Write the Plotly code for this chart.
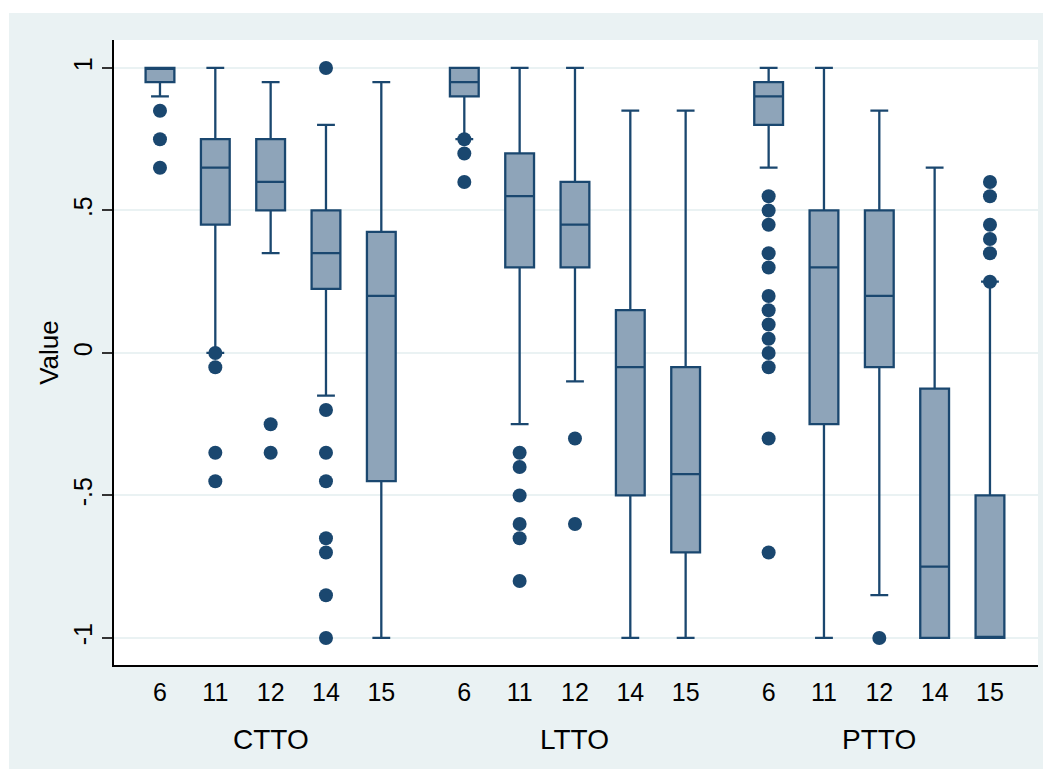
import plotly.graph_objects as go

# ---- data ----
groups = ["CTTO", "LTTO", "PTTO"]
categories = ["6", "11", "12", "14", "15"]

# per group, per category (order of categories)
q1_vals = [
    [0.95, 0.45, 0.50, 0.225, -0.45],
    [0.90, 0.30, 0.30, -0.50, -0.70],
    [0.80, -0.25, -0.05, -1.00, -1.00],
]
median_vals = [
    [1.00, 0.65, 0.60, 0.35, 0.20],
    [0.95, 0.55, 0.45, -0.05, -0.425],
    [0.90, 0.30, 0.20, -0.75, -1.00],
]
q3_vals = [
    [1.00, 0.75, 0.75, 0.50, 0.425],
    [1.00, 0.70, 0.60, 0.15, -0.05],
    [0.95, 0.50, 0.50, -0.125, -0.50],
]
lower_vals = [
    [0.90, 0.00, 0.35, -0.15, -1.00],
    [0.75, -0.25, -0.10, -1.00, -1.00],
    [0.65, -1.00, -0.85, -1.00, -1.00],
]
upper_vals = [
    [1.00, 1.00, 0.95, 0.80, 0.95],
    [1.00, 1.00, 1.00, 0.85, 0.85],
    [1.00, 1.00, 0.85, 0.65, 0.25],
]
outlier_vals = [
    [[0.85, 0.75, 0.65],
     [0.0, -0.05, -0.35, -0.45],
     [-0.25, -0.35],
     [1.0, -0.2, -0.35, -0.45, -0.65, -0.7, -0.85, -1.0],
     []],
    [[0.75, 0.70, 0.60],
     [-0.35, -0.40, -0.50, -0.60, -0.65, -0.80],
     [-0.30, -0.60],
     [],
     []],
    [[0.55, 0.50, 0.45, 0.35, 0.30, 0.20, 0.15, 0.10, 0.05, 0.0, -0.05, -0.30, -0.70],
     [],
     [-1.0],
     [],
     [0.60, 0.55, 0.45, 0.40, 0.35, 0.25]],
]
y_tickvals = [-1, -0.5, 0, 0.5, 1]
y_ticktext = ["-1", "-.5", "0", ".5", "1"]

# ---- styling ----
LINE = "#1A476F"
FILL = "#8EA4B9"
BG = "#EAF2F3"
FONT = "Liberation Sans, Arial, sans-serif"
GROUP_GAP = 5.5

pos, q1, med, q3, lo, hi = [], [], [], [], [], []
ox, oy = [], []
tickpos, ticklab = [], []
for gi, g in enumerate(groups):
    for ci, c in enumerate(categories):
        p = gi * GROUP_GAP + ci
        pos.append(p)
        q1.append(q1_vals[gi][ci])
        med.append(median_vals[gi][ci])
        q3.append(q3_vals[gi][ci])
        lo.append(lower_vals[gi][ci])
        hi.append(upper_vals[gi][ci])
        tickpos.append(p)
        ticklab.append(c)
        for v in outlier_vals[gi][ci]:
            ox.append(p)
            oy.append(v)

fig = go.Figure()
fig.add_trace(go.Box(
    x=pos, q1=q1, median=med, q3=q3, lowerfence=lo, upperfence=hi,
    width=0.52, whiskerwidth=0.62, boxpoints=False,
    fillcolor=FILL, line=dict(color=LINE, width=2.3),
    showlegend=False, hoverinfo="skip",
))
fig.add_trace(go.Scatter(
    x=ox, y=oy, mode="markers",
    marker=dict(color=LINE, size=14, line=dict(width=0)),
    showlegend=False, hoverinfo="skip",
))

W, H = 1051, 769
L, R, T, B = 106, 21, 32, 112
pw, ph = W - L - R, H - T - B

def px_x(x):
    return (x - L) / pw

def px_y(y):
    return (H - B - y) / ph

shapes = [
    dict(type="rect", xref="paper", yref="paper", layer="below",
         x0=px_x(0), x1=px_x(1), y0=px_y(H), y1=px_y(0),
         fillcolor="white", line=dict(width=0)),
    dict(type="rect", xref="paper", yref="paper", layer="below",
         x0=px_x(0), x1=px_x(W), y0=px_y(5), y1=px_y(0),
         fillcolor="white", line=dict(width=0)),
]

annotations = []
for gi, g in enumerate(groups):
    annotations.append(dict(
        x=gi * GROUP_GAP + 2, y=0, xref="x", yref="paper",
        text=g, showarrow=False, yanchor="top", yshift=-57,
        font=dict(family=FONT, size=28, color="black"),
    ))

fig.update_layout(
    width=W, height=H,
    margin=dict(l=L, r=R, t=T, b=B, pad=0),
    paper_bgcolor=BG, plot_bgcolor="white",
    shapes=shapes, annotations=annotations,
    font=dict(family=FONT, color="black"),
    xaxis=dict(
        range=[-0.831, 15.868], tickvals=tickpos, ticktext=ticklab,
        ticks="outside", ticklen=4, tickcolor="rgba(0,0,0,0)",
        tickfont=dict(size=25), showgrid=False, zeroline=False,
        showline=True, linecolor="black", linewidth=1.5,
    ),
    yaxis=dict(
        range=[-1.095, 1.098], tickvals=y_tickvals, ticktext=y_ticktext,
        tickangle=-90, ticks="outside", ticklen=10, tickwidth=1.5,
        tickcolor="#333333", tickfont=dict(size=25),
        showgrid=True, gridcolor=BG, gridwidth=2, zeroline=False,
        showline=True, linecolor="black", linewidth=1.5,
        title=dict(text="Value", font=dict(size=26), standoff=3),
    ),
)

fig.write_html("out.html")
